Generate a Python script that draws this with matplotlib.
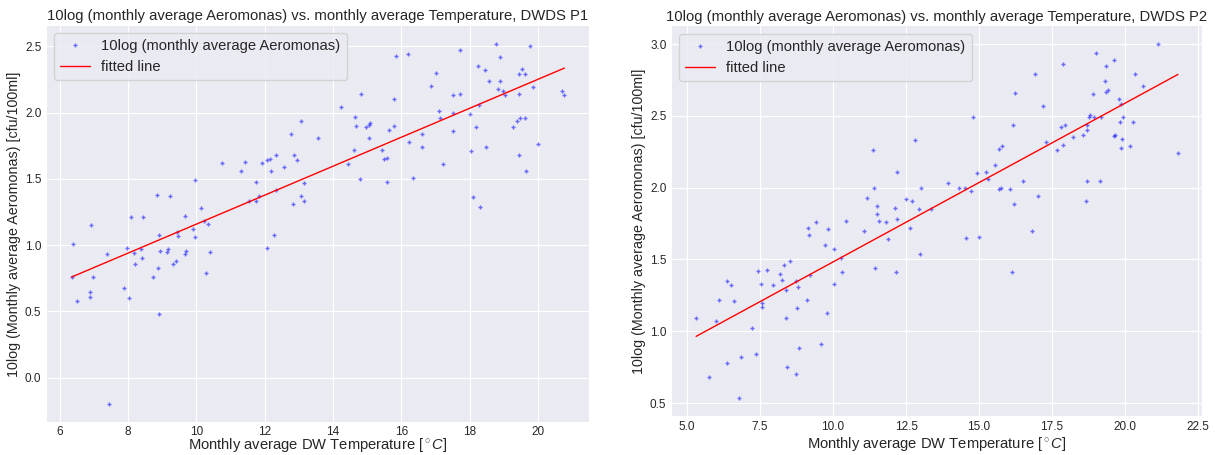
import matplotlib
matplotlib.use("Agg")
import matplotlib.pyplot as plt
import numpy as np

# ---- Data: DWDS P1 ----
p1_temp = [6.38, 6.35, 6.52, 6.92, 6.97, 6.88, 6.90, 7.37, 7.45, 7.88, 8.04, 7.98, 8.08, 8.16, 8.21,
           8.37, 8.41, 8.45, 8.72, 8.85, 8.87, 8.90, 8.91, 8.94, 9.14, 9.18, 9.23, 9.33, 9.40, 9.44,
           9.46, 9.68, 9.69, 9.68, 9.90, 9.97, 9.97, 10.14, 10.22, 10.34, 10.29, 10.39, 10.75, 11.32,
           11.42, 11.54, 11.75, 11.75, 11.82, 11.91, 12.07, 12.15, 12.17, 12.08, 12.26, 12.34, 12.34,
           12.56, 12.78, 12.83, 12.87, 12.94, 13.05, 13.06, 13.16, 13.16, 13.57, 14.24, 14.43, 14.62,
           14.64, 14.66, 14.79, 14.82, 14.96, 15.04, 15.07, 15.04, 15.44, 15.49, 15.57, 15.57, 15.63,
           15.78, 15.79, 15.85, 16.19, 16.23, 16.35, 16.61, 16.60, 16.88, 17.01, 17.11, 17.13, 17.21,
           17.52, 17.52, 17.51, 17.71, 17.72, 18.01, 18.05, 18.10, 18.19, 18.25, 18.26, 18.29, 18.44,
           18.49, 18.57, 18.76, 18.84, 18.88, 18.90, 18.96, 19.03, 19.28, 19.37, 19.47, 19.43, 19.44,
           19.44, 19.54, 19.61, 19.61, 19.65, 19.77, 19.84, 20.00, 20.71, 20.77]
p1_aero = [1.01, 0.76, 0.58, 1.15, 0.76, 0.65, 0.61, 0.93, -0.20, 0.68, 0.60, 0.98, 1.21, 0.94, 0.86,
           0.97, 0.90, 1.21, 0.76, 1.38, 0.83, 0.48, 1.08, 0.96, 0.95, 0.97, 1.37, 0.86, 0.88, 1.10,
           1.07, 1.22, 0.96, 0.93, 1.12, 1.49, 1.06, 1.28, 1.18, 1.16, 0.79, 0.95, 1.62, 1.56,
           1.63, 1.33, 1.48, 1.33, 1.37, 1.62, 1.64, 1.65, 1.56, 0.98, 1.08, 1.68, 1.42,
           1.59, 1.84, 1.31, 1.68, 1.64, 1.37, 1.94, 1.47, 1.33, 1.81, 2.04, 1.61, 1.72,
           1.97, 1.90, 1.50, 2.14, 1.89, 1.91, 1.92, 1.81, 1.72, 1.65, 1.66, 1.48, 1.87,
           2.10, 1.90, 2.43, 2.44, 1.78, 1.51, 1.84, 1.74, 2.20, 2.30, 2.01, 1.96, 1.61,
           2.13, 2.00, 1.86, 2.14, 2.47, 1.99, 1.71, 1.36, 1.89, 2.35, 2.06, 1.29, 2.32,
           1.74, 2.24, 2.52, 2.18, 2.24, 2.42, 2.16, 2.13, 1.89, 1.94, 1.96, 1.68, 2.14,
           2.29, 2.33, 2.29, 1.96, 1.56, 2.50, 2.19, 1.76, 2.16, 2.13]
p1_fit = [0.1093, 0.066]  # slope, intercept

# ---- Data: DWDS P2 ----
p2_temp = [5.31, 5.74, 6.00, 6.11, 6.37, 6.37, 6.51, 6.61, 6.78, 6.84, 7.22, 7.37, 7.44, 7.52, 7.56,
           7.56, 7.73, 7.93, 8.18, 8.25, 8.32, 8.40, 8.40, 8.41, 8.54, 8.72, 8.73, 8.75, 8.79, 8.82,
           9.11, 9.13, 9.19, 9.22, 9.40, 9.59, 9.71, 9.80, 9.84, 10.03, 10.04, 10.27, 10.31, 10.45,
           11.06, 11.16, 11.37, 11.41, 11.42, 11.49, 11.51, 11.59, 11.83, 11.87, 12.11, 12.14, 12.18,
           12.18, 12.50, 12.64, 12.71, 12.79, 12.95, 12.99, 13.00, 13.35, 13.94, 14.33, 14.55, 14.53,
           14.73, 14.79, 14.92, 15.00, 15.23, 15.32, 15.53, 15.67, 15.67, 15.75, 15.80, 16.05, 16.13,
           16.16, 16.20, 16.22, 16.50, 16.80, 16.93, 17.03, 17.18, 17.29, 17.68, 17.82, 17.86, 17.87,
           17.96, 18.23, 18.55, 18.67, 18.71, 18.69, 18.71, 18.76, 18.80, 18.89, 18.94, 19.01, 19.13,
           19.16, 19.32, 19.34, 19.34, 19.41, 19.61, 19.62, 19.67, 19.79, 19.82, 19.86, 19.86, 19.89,
           19.93, 20.17, 20.27, 20.34, 20.63, 21.12, 21.81]
p2_aero = [1.09, 0.68, 1.07, 1.22, 1.35, 0.78, 1.32, 1.21, 0.535, 0.82, 1.02, 0.84, 1.42, 1.33, 1.20,
           1.17, 1.43, 1.32, 1.40, 1.36, 1.46, 1.29, 1.09, 0.75, 1.49, 1.35, 0.70, 1.16, 1.31, 0.88,
           1.22, 1.72, 1.67, 1.39, 1.76, 0.91, 1.60, 1.13, 1.71, 1.57, 1.33, 1.51, 1.41, 1.77,
           1.70, 1.93, 2.26, 2.00, 1.44, 1.87, 1.82, 1.77, 1.76, 1.64, 1.86, 1.41, 2.11,
           1.78, 1.92, 1.72, 1.91, 2.33, 1.85, 1.54, 2.00, 1.85, 2.03, 2.00, 1.65, 2.00,
           1.98, 2.49, 2.10, 1.66, 2.11, 2.06, 2.16, 2.27, 1.99, 2.00, 2.29, 1.99, 1.41,
           2.44, 1.89, 2.66, 2.05, 1.70, 2.79, 1.94, 2.57, 2.32, 2.26, 2.42, 2.30, 2.86,
           2.44, 2.35, 2.37, 1.91, 2.05, 2.40, 2.44, 2.49, 2.51, 2.65, 2.49, 2.94, 2.05,
           2.49, 2.74, 2.85, 2.67, 2.68, 2.89, 2.36, 2.37, 2.62, 2.46, 2.58, 2.28, 2.34,
           2.49, 2.29, 2.46, 2.79, 2.71, 3.00, 2.24]
p2_fit = [0.1106, 0.377]  # slope, intercept

titles = ["10log (monthly average Aeromonas) vs. monthly average Temperature, DWDS P1",
          "10log (monthly average Aeromonas) vs. monthly average Temperature, DWDS P2"]
xlabel = "Monthly average DW Temperature [$^\\circ C$]"
ylabel = "10log (Monthly average Aeromonas) [cfu/100ml]"
legend_labels = ["10log (monthly average Aeromonas)", "fitted line"]

plt.style.use("seaborn-v0_8-darkgrid")
plt.rcParams['font.family'] = ['Liberation Sans', 'DejaVu Sans']
plt.rcParams['mathtext.fontset'] = 'custom'
plt.rcParams['mathtext.rm'] = 'Liberation Sans'
plt.rcParams['mathtext.it'] = 'Liberation Sans:italic'

fig = plt.figure(figsize=(12.15, 4.55), dpi=100)
ax1 = fig.add_axes([0.0387, 0.0719, 0.4461, 0.8716])
ax2 = fig.add_axes([0.5531, 0.0864, 0.4362, 0.8554])

for ax, xs, ys, fit, title, lp in [(ax1, p1_temp, p1_aero, p1_fit, titles[0], -1.5),
                                   (ax2, p2_temp, p2_aero, p2_fit, titles[1], 1)]:
    xs = np.array(xs)
    ys = np.array(ys)
    ax.plot(xs, ys, '+', color='blue', alpha=0.55, markersize=3.5, label=legend_labels[0])
    xl = np.sort(xs)
    ax.plot(xl, fit[0] * xl + fit[1], '-', color='red', linewidth=1, label=legend_labels[1])
    ax.set_title(title, fontsize=10.7, pad=4)
    ax.set_xlabel(xlabel, fontsize=10.6, labelpad=lp)
    ax.set_ylabel(ylabel, fontsize=10.3, labelpad=3)
    ax.tick_params(labelsize=8.5, pad=4)
    ax.legend(loc='upper left', frameon=True, fontsize=10.6)

ax1.tick_params(axis='x', pad=3)
ax2.set_xticks([5.0, 7.5, 10.0, 12.5, 15.0, 17.5, 20.0, 22.5])

fig.savefig("out.png", dpi=100)
